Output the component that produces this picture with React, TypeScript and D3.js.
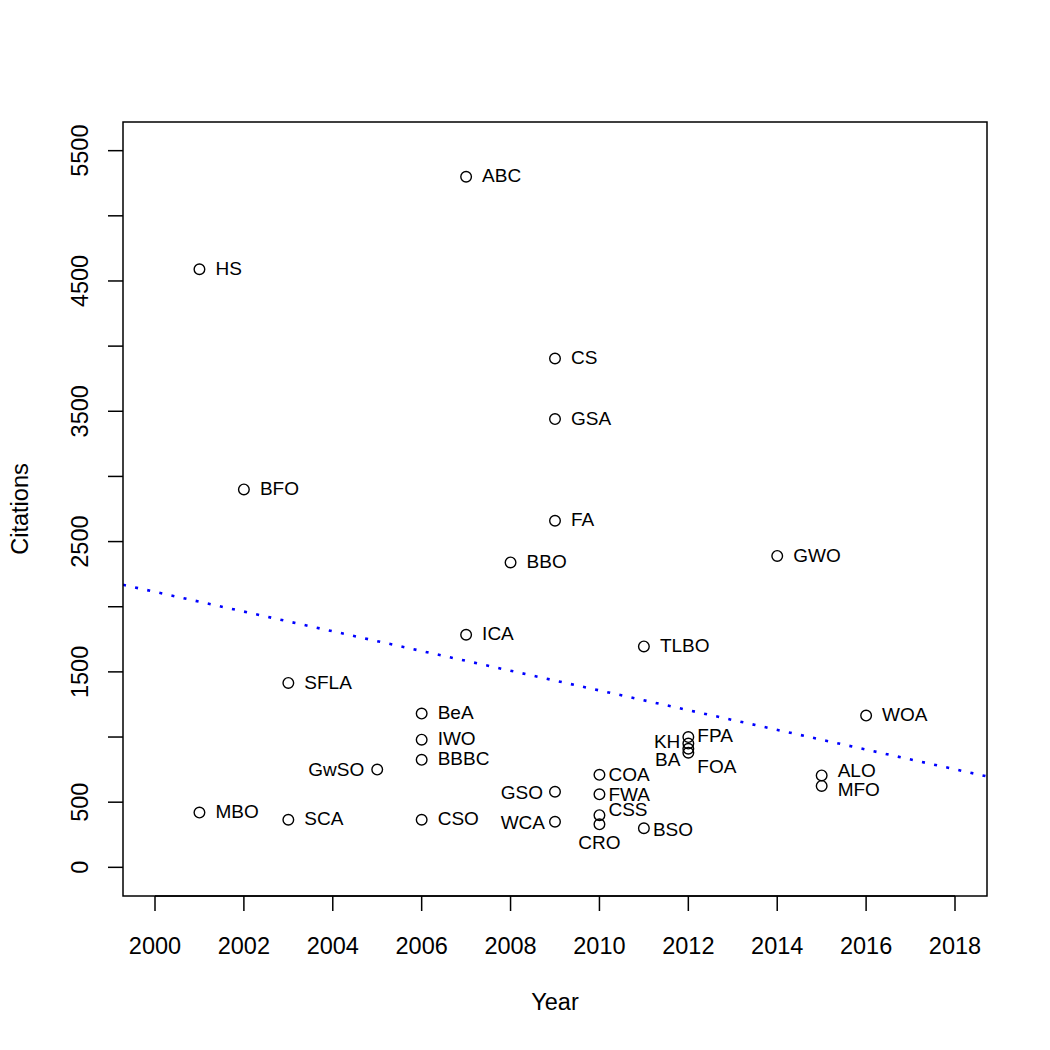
import React, { useEffect, useRef } from 'react';
import * as d3 from 'd3';

// algorithm names, publication year, citations
const names = ['ABC', 'HS', 'CS', 'GSA', 'BFO', 'FA', 'BBO', 'GWO', 'ICA', 'TLBO', 'SFLA', 'BeA', 'WOA', 'IWO', 'BBBC', 'GwSO',
    'FPA', 'KH', 'BA', 'FOA', 'COA', 'FWA', 'CSS', 'CRO', 'BSO', 'GSO', 'WCA', 'MBO', 'SCA', 'CSO', 'ALO', 'MFO'];
const years = [2007, 2001, 2009, 2009, 2002, 2009, 2008, 2014, 2007, 2011, 2003, 2006, 2016, 2006, 2006, 2005,
    2012, 2012, 2012, 2012, 2010, 2010, 2010, 2010, 2011, 2009, 2009, 2001, 2003, 2006, 2015, 2015];
const citations = [5300, 4590, 3905, 3440, 2900, 2660, 2340, 2390, 1785, 1695, 1415, 1180, 1165, 980, 825, 750,
    1000, 950, 910, 880, 710, 560, 400, 330, 300, 580, 350, 420, 365, 365, 705, 625];

const xTicks = [2000, 2002, 2004, 2006, 2008, 2010, 2012, 2014, 2016, 2018];
const yTicks = d3.range(0, 5501, 500);
const yTickLabels = [0, 500, 1500, 2500, 3500, 4500, 5500];

// where each label sits next to its point: [anchor, dx, dy]
const labelPos: { [k: string]: [string, number, number] } = {
    GwSO: ['end', -13, 0],
    GSO: ['end', -12, 1],
    WCA: ['end', -10, 1],
    KH: ['end', -8, -2],
    BA: ['end', -8, 11],
    FPA: ['start', 9, -2],
    FOA: ['start', 9, 14],
    COA: ['start', 9, 0],
    FWA: ['start', 9, 0],
    CSS: ['start', 9, -6],
    CRO: ['middle', 0, 18],
    BSO: ['start', 9, 1],
    ALO: ['start', 16, -5],
    MFO: ['start', 16, 4],
};

const W = 1050, H = 1050;
const box = { left: 123, right: 987, top: 122, bottom: 896 };
const font = '"Liberation Sans", Arial, Helvetica, sans-serif';

const draw = (node: SVGSVGElement) => {
    const svg = d3.select(node);
    svg.selectAll('*').remove();

    const x = d3.scaleLinear().domain([1999.28, 2018.72]).range([box.left, box.right]);
    const y = d3.scaleLinear().domain([-220, 5720]).range([box.bottom, box.top]);

    svg.append('rect').attr('width', W).attr('height', H).attr('fill', 'white');

    svg.append('clipPath').attr('id', 'plotclip')
        .append('rect')
        .attr('x', box.left).attr('y', box.top)
        .attr('width', box.right - box.left).attr('height', box.bottom - box.top);

    // least squares fit Citations ~ Year
    const mx = d3.mean(years) as number;
    const my = d3.mean(citations) as number;
    let sxy = 0, sxx = 0;
    years.forEach((yr, i) => {
        sxy += (yr - mx) * (citations[i] - my);
        sxx += (yr - mx) * (yr - mx);
    });
    const slope = sxy / sxx;
    const icpt = my - slope * mx;
    const [x0, x1] = x.domain();

    svg.append('line')
        .attr('clip-path', 'url(#plotclip)')
        .attr('x1', x(x0)).attr('y1', y(icpt + slope * x0))
        .attr('x2', x(x1)).attr('y2', y(icpt + slope * x1))
        .attr('stroke', '#0000ff')
        .attr('stroke-width', 2.6)
        .attr('stroke-dasharray', '3 9.4');

    // points
    svg.append('g')
        .selectAll('circle')
        .data(names)
        .enter()
        .append('circle')
        .attr('cx', (d, i) => x(years[i]))
        .attr('cy', (d, i) => y(citations[i]))
        .attr('r', 5.3)
        .attr('fill', 'none')
        .attr('stroke', 'black')
        .attr('stroke-width', 1.4);

    svg.append('g')
        .selectAll('text')
        .data(names)
        .enter()
        .append('text')
        .text(d => d)
        .attr('x', (d, i) => x(years[i]) + (labelPos[d] ? labelPos[d][1] : 16))
        .attr('y', (d, i) => y(citations[i]) + (labelPos[d] ? labelPos[d][2] : -1) + 6.6)
        .attr('text-anchor', d => labelPos[d] ? labelPos[d][0] : 'start')
        .attr('font-family', font)
        .attr('font-size', 19)
        .attr('fill', 'black');

    // box
    svg.append('rect')
        .attr('x', box.left).attr('y', box.top)
        .attr('width', box.right - box.left).attr('height', box.bottom - box.top)
        .attr('fill', 'none')
        .attr('stroke', 'black')
        .attr('stroke-width', 1.5);

    // x axis
    const gx = svg.append('g');
    gx.append('line')
        .attr('x1', x(xTicks[0])).attr('x2', x(xTicks[xTicks.length - 1]))
        .attr('y1', box.bottom).attr('y2', box.bottom)
        .attr('stroke', 'black').attr('stroke-width', 1.5);
    gx.selectAll('.tick')
        .data(xTicks)
        .enter()
        .append('line')
        .attr('x1', d => x(d)).attr('x2', d => x(d))
        .attr('y1', box.bottom).attr('y2', box.bottom + 15)
        .attr('stroke', 'black').attr('stroke-width', 1.5);
    gx.selectAll('text')
        .data(xTicks)
        .enter()
        .append('text')
        .text(d => d)
        .attr('x', d => x(d))
        .attr('y', 954)
        .attr('text-anchor', 'middle')
        .attr('font-family', font)
        .attr('font-size', 23.5);

    // y axis
    const gy = svg.append('g');
    gy.selectAll('.tick')
        .data(yTicks)
        .enter()
        .append('line')
        .attr('x1', box.left - 15).attr('x2', box.left)
        .attr('y1', d => y(d)).attr('y2', d => y(d))
        .attr('stroke', 'black').attr('stroke-width', 1.5);
    gy.selectAll('text')
        .data(yTickLabels)
        .enter()
        .append('text')
        .text(d => d)
        .attr('transform', d => `translate(88,${y(d)}) rotate(-90)`)
        .attr('text-anchor', 'middle')
        .attr('font-family', font)
        .attr('font-size', 23.5);

    svg.append('text')
        .text('Year')
        .attr('x', (box.left + box.right) / 2)
        .attr('y', 1010)
        .attr('text-anchor', 'middle')
        .attr('font-family', font)
        .attr('font-size', 23.5);

    svg.append('text')
        .text('Citations')
        .attr('transform', `translate(28,${(box.top + box.bottom) / 2}) rotate(-90)`)
        .attr('text-anchor', 'middle')
        .attr('font-family', font)
        .attr('font-size', 23.5);
};

export default function App() {
    const ref = useRef<SVGSVGElement>(null);
    useEffect(() => {
        if (ref.current) draw(ref.current);
    }, []);
    return (
        <svg ref={ref} width={W} height={H}
            style={{ position: 'absolute', left: 0, top: 0, display: 'block' }} />
    );
}
